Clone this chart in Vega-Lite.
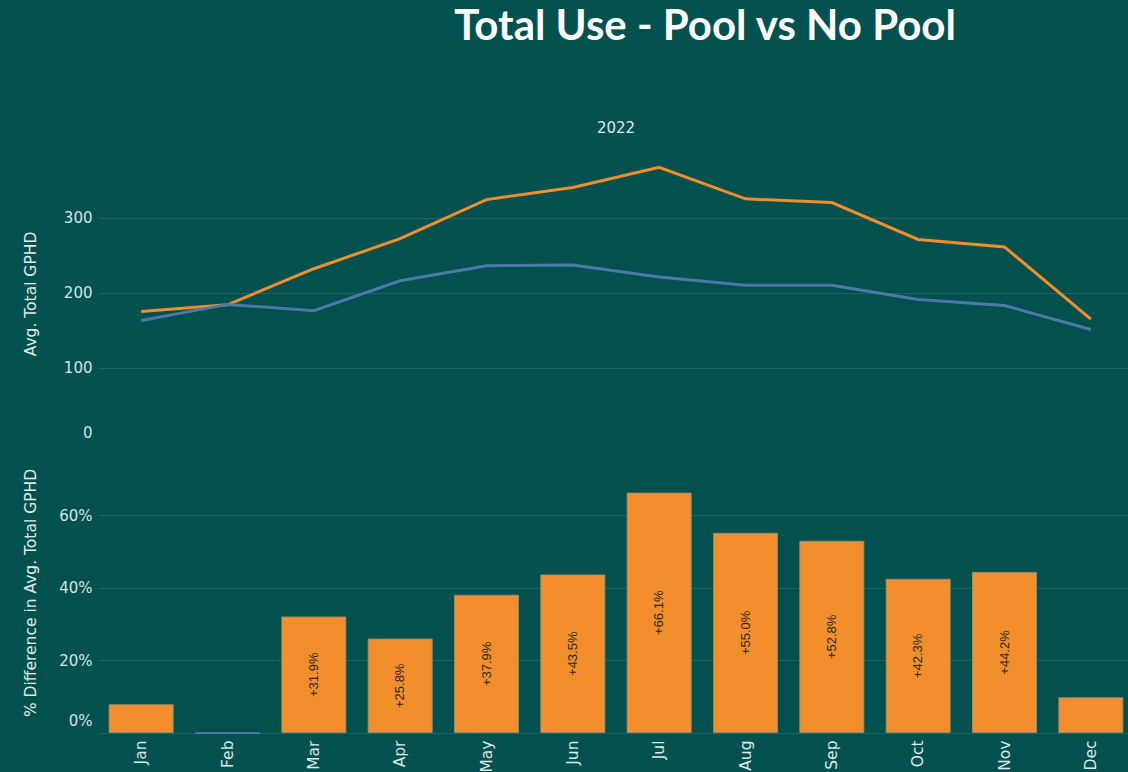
{
  "$schema": "https://vega.github.io/schema/vega-lite/v6.json",
  "background": "#02514F",
  "padding": {"left": 23, "top": 6, "right": 0, "bottom": 0},
  "title": {"text": "Total Use - Pool vs No Pool", "font": "Lato", "fontWeight": 700, "fontSize": 42, "color": "#ffffff", "anchor": "middle", "frame": "group", "dx": 89, "offset": 72},
  "datasets": {
    "gphd": [
      {"month": "Jan", "series": "Pool", "gphd": 175}, {"month": "Feb", "series": "Pool", "gphd": 184}, {"month": "Mar", "series": "Pool", "gphd": 232}, {"month": "Apr", "series": "Pool", "gphd": 272}, {"month": "May", "series": "Pool", "gphd": 324}, {"month": "Jun", "series": "Pool", "gphd": 340}, {"month": "Jul", "series": "Pool", "gphd": 367}, {"month": "Aug", "series": "Pool", "gphd": 325}, {"month": "Sep", "series": "Pool", "gphd": 320}, {"month": "Oct", "series": "Pool", "gphd": 271}, {"month": "Nov", "series": "Pool", "gphd": 261}, {"month": "Dec", "series": "Pool", "gphd": 165},
      {"month": "Jan", "series": "No Pool", "gphd": 163}, {"month": "Feb", "series": "No Pool", "gphd": 184.5}, {"month": "Mar", "series": "No Pool", "gphd": 176}, {"month": "Apr", "series": "No Pool", "gphd": 216}, {"month": "May", "series": "No Pool", "gphd": 236}, {"month": "Jun", "series": "No Pool", "gphd": 237}, {"month": "Jul", "series": "No Pool", "gphd": 221}, {"month": "Aug", "series": "No Pool", "gphd": 210}, {"month": "Sep", "series": "No Pool", "gphd": 210}, {"month": "Oct", "series": "No Pool", "gphd": 191}, {"month": "Nov", "series": "No Pool", "gphd": 183}, {"month": "Dec", "series": "No Pool", "gphd": 151}
    ],
    "diff": [
      {"month": "Jan", "pct": 0.077}, {"month": "Feb", "pct": -0.003}, {"month": "Mar", "pct": 0.319}, {"month": "Apr", "pct": 0.258}, {"month": "May", "pct": 0.379}, {"month": "Jun", "pct": 0.435}, {"month": "Jul", "pct": 0.661}, {"month": "Aug", "pct": 0.55}, {"month": "Sep", "pct": 0.528}, {"month": "Oct", "pct": 0.423}, {"month": "Nov", "pct": 0.442}, {"month": "Dec", "pct": 0.096}
    ]
  },
  "spacing": 8,
  "vconcat": [
    {
      "width": 1036,
      "height": 299,
      "title": {"text": "2022", "font": "DejaVu Sans", "fontSize": 15, "fontWeight": "normal", "color": "#dce9e7", "offset": 8, "anchor": "middle"},
      "data": {"name": "gphd"},
      "mark": {"type": "line", "strokeWidth": 3},
      "encoding": {
        "x": {"field": "month", "type": "ordinal", "sort": ["Jan","Feb","Mar","Apr","May","Jun","Jul","Aug","Sep","Oct","Nov","Dec"], "scale": {"type": "point", "padding": 0.5}, "axis": null},
        "y": {"field": "gphd", "type": "quantitative", "scale": {"domain": [0, 398], "nice": false}, "axis": {"title": "Avg. Total GPHD", "values": [0, 100, 200, 300], "labelFlush": 2, "labelFlushOffset": -3, "titlePadding": 25, "gridOpacity": {"condition": {"test": "datum.value === 0", "value": 0}, "value": 1}}},
        "color": {"field": "series", "type": "nominal", "scale": {"domain": ["No Pool", "Pool"], "range": ["#4E79A7", "#F28E2B"]}, "legend": null}
      }
    },
    {
      "width": 1036,
      "height": 283,
      "data": {"name": "diff"},
      "encoding": {
        "x": {"field": "month", "type": "ordinal", "sort": ["Jan","Feb","Mar","Apr","May","Jun","Jul","Aug","Sep","Oct","Nov","Dec"], "scale": {"type": "band", "paddingInner": 0.258, "paddingOuter": 0.129}, "axis": {"title": null, "labelAngle": -90, "labelFontSize": 15.5, "labelPadding": 6, "labelColor": "#dbe8e6"}}
      },
      "layer": [
        {
          "mark": {"type": "bar", "strokeWidth": 0.8},
          "encoding": {
            "y": {"field": "pct", "type": "quantitative", "scale": {"domain": [-0.004, 0.777], "nice": false}, "axis": {"title": "% Difference in Avg. Total GPHD", "format": ".0%", "values": [0, 0.2, 0.4, 0.6], "labelFlush": 3, "labelFlushOffset": -4, "titlePadding": 20}},
            "color": {"condition": {"test": "datum.pct < 0", "value": "#4E79A7"}, "value": "#F28E2B"},
            "stroke": {"condition": {"test": "datum.pct < 0", "value": "#4E79A7"}, "value": "#9a8f7a"}
          }
        },
        {
          "transform": [{"filter": "datum.pct > 0.15"}, {"calculate": "datum.pct / 2", "as": "mid"}],
          "mark": {"type": "text", "angle": 270, "font": "Liberation Sans", "fontSize": 13, "color": "#2a2a2a", "align": "center", "baseline": "middle"},
          "encoding": {
            "y": {"field": "mid", "type": "quantitative"},
            "text": {"field": "pct", "type": "quantitative", "format": "+.1%"}
          }
        }
      ]
    }
  ],
  "config": {
    "view": {"stroke": null},
    "axis": {"labelFont": "DejaVu Sans", "labelFontSize": 15, "labelColor": "#d5e3e1", "titleFont": "DejaVu Sans", "titleFontSize": 15.5, "titleFontWeight": "normal", "titleColor": "#e0ebe9", "domain": false, "ticks": false, "gridColor": "#1c6562", "gridWidth": 1, "labelPadding": 6}
  }
}
